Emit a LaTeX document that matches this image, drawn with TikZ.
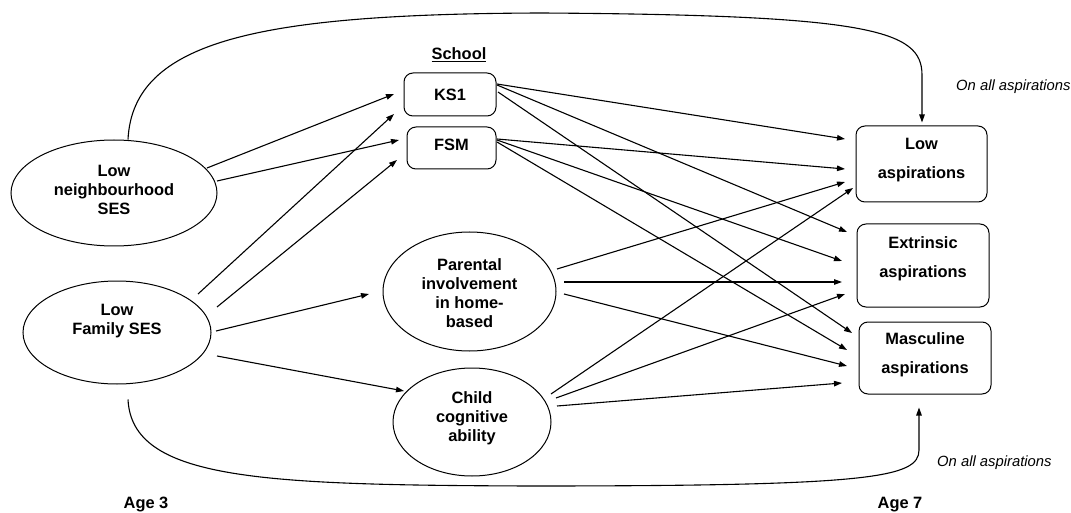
\documentclass[tikz,border=0pt]{standalone}
\usepackage{fontspec}
\setmainfont{Liberation Sans}
\usetikzlibrary{arrows.meta,shapes.geometric,calc}

\tikzset{
  lbl/.style={font=\fontsize{16.4}{19}\selectfont\bfseries, align=center, inner sep=0pt},
  boxlbl/.style={font=\fontsize{16.4}{28.5}\selectfont\bfseries, align=center, inner sep=0pt},
  oval/.style={draw, ellipse, line width=1pt, inner sep=0pt},
  rbox/.style={draw, rectangle, rounded corners=9pt, line width=1pt, inner sep=0pt},
  arr/.style={line width=1.1pt, -{Triangle[length=8pt,width=5.5pt]}},
  note/.style={font=\fontsize{14.8}{17}\selectfont\itshape, inner sep=0pt},
  agetxt/.style={font=\fontsize{16.4}{19}\selectfont\bfseries, inner sep=0pt},
}

\begin{document}
\begin{tikzpicture}[x=1pt,y=-1pt]
\useasboundingbox (0,0) rectangle (1071,513);

% Age 3 predictors
\node[oval, minimum width=206pt, minimum height=106pt,
      label={[lbl, yshift=3pt]center:Low\\neighbourhood\\SES}] (nb) at (114,193) {};
\node[oval, minimum width=188pt, minimum height=103pt,
      label={[lbl, yshift=11pt]center:Low\\Family SES}] (fam) at (117,332.5) {};

% School measures
\node[lbl] (school) at (459,55) {\underline{School}};
\node[rbox, minimum width=92pt, minimum height=43pt,
      label={[lbl]center:KS1}] (ks1) at (450,94.5) {};
\node[rbox, minimum width=89pt, minimum height=42pt,
      label={[lbl, yshift=3pt]center:FSM}] (fsm) at (451.5,148) {};

% Mediators
\node[oval, minimum width=173pt, minimum height=119pt,
      label={[lbl, yshift=-2pt]center:Parental\\involvement\\in home-\\based}] (par) at (469.5,291.5) {};
\node[oval, minimum width=158pt, minimum height=108pt,
      label={[lbl, yshift=4pt]center:Child\\cognitive\\ability}] (chi) at (472,422) {};

% Age 7 outcomes
\node[rbox, minimum width=131pt, minimum height=76pt,
      label={[boxlbl, yshift=4pt]center:Low\\aspirations}] (low) at (921.5,164) {};
\node[rbox, minimum width=132pt, minimum height=83pt,
      label={[boxlbl, yshift=6.5pt]center:Extrinsic\\aspirations}] (ext) at (923,265.5) {};
\node[rbox, minimum width=132pt, minimum height=72pt,
      label={[boxlbl, yshift=3pt]center:Masculine\\aspirations}] (mas) at (925,358) {};

% Side notes and ages
\node[note, anchor=west] (note1) at (956,87) {On all aspirations};
\node[note, anchor=west] (note2) at (937,463) {On all aspirations};
\node[agetxt] (age3) at (146,505) {Age 3};
\node[agetxt] (age7) at (900,505) {Age 7};

% Paths into the school measures
\draw[arr] ($(nb.center)+(93,-25)$)    -- ($(ks1.center)+(-56,-0.5)$);
\draw[arr] ($(nb.center)+(103,-12)$)   -- ($(fsm.center)+(-52.5,-8)$);
\draw[arr] ($(fam.center)+(81,-38.5)$) -- ($(ks1.center)+(-56,19.5)$);
\draw[arr] ($(fam.center)+(100,-25.5)$) -- ($(fsm.center)+(-54.5,12)$);

% Paths into the mediators
\draw[arr] ($(fam.center)+(99,-1.5)$)  -- ($(par.center)+(-100.5,2.5)$);
\draw[arr] ($(fam.center)+(100,23.5)$) -- ($(chi.center)+(-68,-31)$);

% Paths from KS1
\draw[arr] ($(ks1.center)+(47,-10.5)$) -- ($(low.center)+(-76.5,-25)$);
\draw[arr] ($(ks1.center)+(47,-9.5)$)  -- ($(ext.center)+(-76,-33.5)$);
\draw[arr] ($(ks1.center)+(48,-2.5)$)  -- ($(mas.center)+(-73,-25)$);

% Paths from FSM
\draw[arr] ($(fsm.center)+(45.5,-9)$) -- ($(low.center)+(-76.5,5)$);
\draw[arr] ($(fsm.center)+(45.5,-8)$) -- ($(ext.center)+(-81,-4.5)$);
\draw[arr] ($(fsm.center)+(45.5,-6)$) -- ($(mas.center)+(-78,-8)$);

% Paths from parental involvement
\draw[arr] ($(par.center)+(87.5,-22.5)$) -- ($(low.center)+(-76.5,18)$);
\draw[arr] ($(par.center)+(94.5,-9.5)$)  -- ($(ext.center)+(-81,16.5)$);
\draw[arr] ($(par.center)+(94.5,2.5)$)   -- ($(mas.center)+(-78,8)$);

% Paths from child cognitive ability
\draw[arr] ($(chi.center)+(79,-28)$) -- ($(low.center)+(-68.5,24)$);
\draw[arr] ($(chi.center)+(84,-24)$) -- ($(ext.center)+(-78,28.5)$);
\draw[arr] ($(chi.center)+(85,-16)$) -- ($(mas.center)+(-83,25)$);

% Direct effects on all aspirations
\coordinate (topmid) at (541,13);
\coordinate (botmid) at (530,486);
\draw[arr] ($(nb.north)+(14,0)$) .. controls (133,40) and (260,14) .. (topmid)
           .. controls (870,15) and (922,30) .. (922,75) -- ($(low.north)+(0.5,-3)$);
\draw[arr] ($(fam.south)+(11,15)$) .. controls (132,480) and (260,485) .. (botmid)
           .. controls (870,486) and (919,478) .. (919,450) -- ($(mas.south)+(-6,13)$);
\end{tikzpicture}
\end{document}
